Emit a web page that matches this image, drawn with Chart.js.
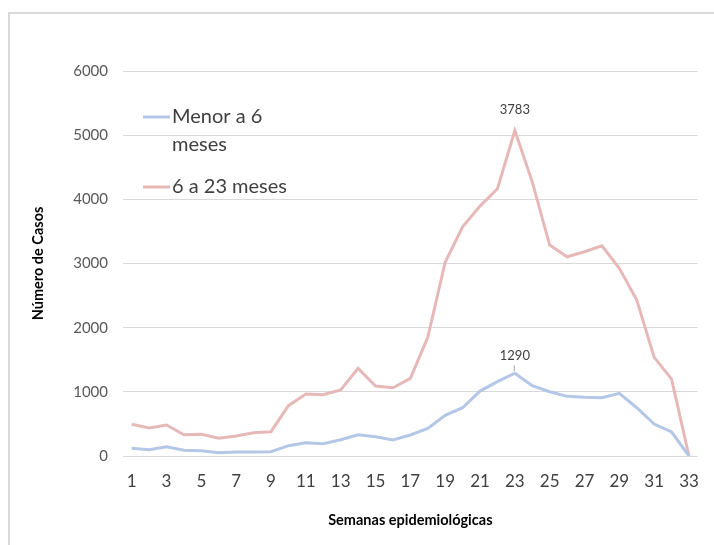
<!DOCTYPE html>
<html lang="es">
<head>
<meta charset="utf-8">
<title>Casos por semana epidemiológica</title>
<script src="https://cdn.jsdelivr.net/npm/chart.js@4.4.0/dist/chart.umd.min.js"></script>
<style>
  html, body { margin: 0; padding: 0; background: #fff; overflow: hidden; }
  #marco {
    position: absolute; left: 8px; top: 12px; width: 800px; height: 600px;
    border-left: 2px solid #d9d9d9; border-top: 2px solid #d9d9d9;
  }
  #casosChart { position: absolute; left: 0; top: 0; }
</style>
</head>
<body>
<div id="marco"></div>
<canvas id="casosChart" width="714" height="545"></canvas>
<script>
// semanas epidemiológicas 1 a 33
const semanas = ['1', '2', '3', '4', '5', '6', '7', '8', '9', '10', '11', '12', '13', '14', '15', '16', '17',
  '18', '19', '20', '21', '22', '23', '24', '25', '26', '27', '28', '29', '30', '31', '32', '33'];

// casos en menores de 6 meses
const menor6 = [120, 98, 145, 89, 83, 52, 62, 62, 67, 161, 208, 192, 254, 332, 301, 249, 327,
  431, 634, 752, 1012, 1158, 1290, 1095, 1002, 930, 914, 908, 976, 752, 498, 374, 0];

// casos de 6 a 23 meses (el gráfico va apilado sobre la serie anterior)
const de6a23 = [374, 338, 338, 243, 255, 224, 249, 301, 312, 623, 758, 763, 774, 1034, 789, 815, 883,
  1418, 2386, 2820, 2882, 3006, 3783, 3178, 2285, 2175, 2269, 2368, 1948, 1678, 1039, 825, 0];

const nombresSeries = ['Menor a 6 meses', '6 a 23 meses'];
const coloresSeries = ['#b4c7e7', '#e6b9b8'];

const tituloX = 'Semanas epidemiológicas';
const tituloY = 'Número de Casos';

document.addEventListener('DOMContentLoaded', function () {
  const casosChart = document.getElementById('casosChart').getContext('2d');
  const fuente = 'Lato, "Open Sans", sans-serif';

  function partirTexto(ctx, texto, anchoMax) {
    const palabras = texto.split(' ');
    const lineas = [];
    let actual = '';
    palabras.forEach(p => {
      const prueba = actual ? actual + ' ' + p : p;
      if (ctx.measureText(prueba).width > anchoMax && actual) {
        lineas.push(actual);
        actual = p;
      } else {
        actual = prueba;
      }
    });
    lineas.push(actual);
    return lineas;
  }

  // leyenda dentro del área del gráfico, arriba a la izquierda
  const leyendaPlugin = {
    id: 'leyenda',
    afterDraw(chart) {
      const ctx = chart.ctx;
      const filas = [117, 187];
      ctx.save();
      ctx.font = '20px ' + fuente;
      ctx.textBaseline = 'middle';
      chart.data.datasets.forEach((ds, i) => {
        const y = filas[i];
        ctx.strokeStyle = ds.borderColor;
        ctx.lineWidth = 3;
        ctx.beginPath();
        ctx.moveTo(143, y);
        ctx.lineTo(170, y);
        ctx.stroke();
        ctx.fillStyle = '#404040';
        partirTexto(ctx, ds.label, 128).forEach((linea, j) => {
          ctx.fillText(linea, 172, y + j * 28);
        });
      });
      ctx.restore();
    }
  };

  // etiqueta del valor máximo de cada serie
  const etiquetasPlugin = {
    id: 'etiquetas',
    afterDatasetsDraw(chart) {
      const ctx = chart.ctx;
      const ajustes = [{ dy: 17, guia: true }, { dy: 21, guia: false }];
      ctx.save();
      ctx.font = '13px ' + fuente;
      ctx.textAlign = 'center';
      ctx.textBaseline = 'middle';
      ctx.fillStyle = '#404040';
      chart.data.datasets.forEach((ds, i) => {
        const idx = ds.data.indexOf(Math.max(...ds.data));
        const punto = chart.getDatasetMeta(i).data[idx];
        const ajuste = ajustes[i];
        ctx.fillText(String(ds.data[idx]), punto.x, punto.y - ajuste.dy);
        if (ajuste.guia) {
          ctx.strokeStyle = '#a6a6a6';
          ctx.lineWidth = 1;
          ctx.beginPath();
          ctx.moveTo(punto.x - 0.5, punto.y - 8);
          ctx.lineTo(punto.x - 0.5, punto.y - 2);
          ctx.stroke();
        }
      });
      ctx.restore();
    }
  };

  new Chart(casosChart, {
    type: 'line',
    data: {
      labels: semanas,
      datasets: [
        {
          label: nombresSeries[0],
          data: menor6,
          borderColor: coloresSeries[0],
          backgroundColor: coloresSeries[0],
          borderWidth: 3,
          pointRadius: 0,
          fill: false,
          tension: 0,
        },
        {
          label: nombresSeries[1],
          data: de6a23,
          borderColor: coloresSeries[1],
          backgroundColor: coloresSeries[1],
          borderWidth: 3,
          pointRadius: 0,
          fill: false,
          tension: 0,
        },
      ],
    },
    options: {
      responsive: false,
      animation: false,
      events: [],
      layout: { padding: { left: 0, right: 9, top: 71, bottom: 0 } },
      plugins: {
        legend: { display: false },
        tooltip: { enabled: false },
      },
      scales: {
        x: {
          offset: true,
          grid: { display: false, drawTicks: false },
          border: { display: false },
          ticks: {
            autoSkip: false,
            maxRotation: 0,
            padding: 15,
            color: '#404040',
            font: { family: fuente, size: 17 },
            callback: function (value, index) {
              return index % 2 === 0 ? this.getLabelForValue(value) : '';
            },
          },
          title: {
            display: true,
            text: tituloX,
            color: '#000',
            font: { family: fuente, size: 14.5, weight: 'bold' },
            padding: { top: 0, bottom: 16 },
          },
          afterFit: function (scale) { scale.height = 89; },
        },
        y: {
          stacked: true,
          min: 0,
          max: 6000,
          grid: { color: '#d9d9d9', lineWidth: 1, drawTicks: false },
          border: { display: false },
          ticks: {
            stepSize: 1000,
            padding: 15,
            color: '#595959',
            font: { family: fuente, size: 15 },
            callback: function (value) { return String(value); },
          },
          title: {
            display: true,
            text: tituloY,
            color: '#000',
            font: { family: fuente, size: 14.5, weight: 'bold' },
            padding: { top: 30, bottom: 0 },
          },
          afterFit: function (scale) { scale.width = 123; },
        },
      },
    },
    plugins: [leyendaPlugin, etiquetasPlugin],
  });
});
</script>
</body>
</html>
